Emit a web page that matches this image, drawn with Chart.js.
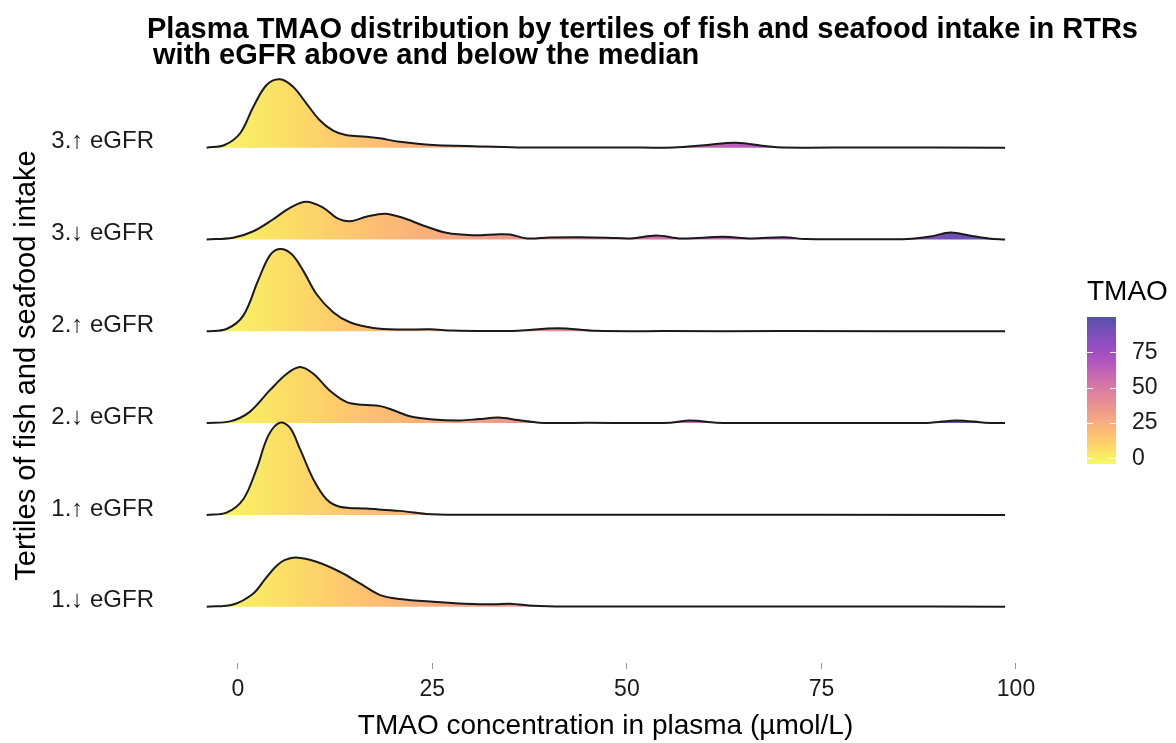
<!DOCTYPE html>
<html>
<head>
<meta charset="utf-8">
<title>Plasma TMAO ridgeline</title>
<script src="https://cdn.jsdelivr.net/npm/chart.js@4.4.1/dist/chart.umd.min.js"></script>
<style>
  html, body { margin: 0; padding: 0; background: #ffffff; }
  canvas { display: block; }
</style>
</head>
<body>
<canvas id="tmao_ridges" width="1176" height="743"></canvas>
<script>
// row labels, bottom to top
const rowLabels = ['1.↓ eGFR', '1.↑ eGFR', '2.↓ eGFR', '2.↑ eGFR', '3.↓ eGFR', '3.↑ eGFR'];
const xTicks = [0, 25, 50, 75, 100];
const legendTicks = [0, 25, 50, 75];

// density height per row, in units of row spacing
const t1DownX = [-4, -0.6, 2, 3.5, 4.8, 6, 7.5, 10.1, 13.1, 15.7, 18.3, 20.8, 25.1, 30.2, 33, 35, 38, 42, 60, 80, 98.6];
const t1DownH = [0, 0.025, 0.145, 0.3, 0.43, 0.508, 0.537, 0.49, 0.381, 0.254, 0.127, 0.084, 0.054, 0.029, 0.027, 0.033, 0.011, 0.003, 0.002, 0.002, 0];

const t1UpX = [-4, -1.45, 0.7, 2.4, 3.9, 5.4, 6.7, 8, 9.7, 11.4, 13.1, 16.5, 20.8, 24.2, 28, 50, 98.6];
const t1UpH = [0, 0.025, 0.171, 0.498, 0.861, 1.005, 0.951, 0.716, 0.389, 0.171, 0.09, 0.069, 0.044, 0.011, 0.002, 0.001, 0];

const t2DownX = [-4, -1, 1.5, 4.1, 6.3, 8, 9.7, 11.8, 14, 16.1, 18.3, 20, 22.1, 25.1, 28.5, 31, 33.5, 36, 38.8, 45, 55.6, 58.1, 61.5, 70, 85, 89, 92.4, 96, 98.6];
const t2DownH = [0, 0.019, 0.12, 0.356, 0.537, 0.61, 0.537, 0.356, 0.229, 0.199, 0.185, 0.14, 0.075, 0.04, 0.029, 0.044, 0.06, 0.033, 0.005, 0.003, 0.005, 0.029, 0.005, 0.002, 0.002, 0.005, 0.029, 0.005, 0];

const t2UpX = [-4, -1.45, 0.7, 2.6, 4.1, 5.4, 6.9, 8.4, 10.1, 12.25, 14.4, 17.4, 20.8, 24.7, 27.6, 33, 36, 41.1, 46, 55, 70, 98.6];
const t2UpH = [0, 0.025, 0.171, 0.552, 0.825, 0.897, 0.842, 0.661, 0.406, 0.207, 0.098, 0.036, 0.019, 0.022, 0.008, 0.003, 0.005, 0.033, 0.005, 0.002, 0.002, 0];

const t3DownX = [-4, -0.6, 2, 4.5, 6.7, 8.8, 11, 12.7, 14.4, 16.5, 18.9, 21.2, 23.8, 26.8, 30.2, 33.7, 35, 37.2, 40, 44, 47.5, 50.5, 53.8, 57, 62.4, 66, 70.1, 73, 80, 86, 89, 91.6, 94, 96.5, 98.6];
const t3DownH = [0, 0.019, 0.09, 0.218, 0.345, 0.411, 0.345, 0.236, 0.199, 0.247, 0.28, 0.236, 0.153, 0.073, 0.047, 0.058, 0.054, 0.011, 0.022, 0.025, 0.02, 0.011, 0.044, 0.011, 0.029, 0.011, 0.025, 0.005, 0.003, 0.005, 0.033, 0.076, 0.044, 0.011, 0];

const t3UpX = [-4, -1.7, 0.3, 2, 3.7, 5.4, 7.1, 8.8, 10.5, 12.25, 14, 16.5, 18.25, 20.8, 25.1, 29.4, 36, 50, 56, 60, 64, 68, 70, 80, 98.6];
const t3UpH = [0, 0.029, 0.157, 0.447, 0.683, 0.745, 0.664, 0.484, 0.302, 0.185, 0.135, 0.12, 0.102, 0.065, 0.029, 0.019, 0.003, 0.002, 0.003, 0.027, 0.054, 0.016, 0.002, 0.002, 0];

const rowsX = [t1DownX, t1UpX, t2DownX, t2UpX, t3DownX, t3UpX];
const rowsH = [t1DownH, t1UpH, t2DownH, t2UpH, t3DownH, t3UpH];

// fill colour range of the TMAO scale
const colorMin = -4;
const colorMax = 100;

document.addEventListener('DOMContentLoaded', () => {
  const canvas = document.getElementById('tmao_ridges');
  const ctx = canvas.getContext('2d');
  const FONT = '"Liberation Sans", Arial, Helvetica, sans-serif';
  Chart.defaults.font.family = FONT;
  Chart.defaults.color = '#1a1a1a';

  // plasma, low -> high
  const plasma = ['#0d0887', '#41049d', '#6a00a8', '#8f0da4', '#b12a90', '#cc4778',
    '#e16462', '#f2844b', '#fca636', '#fcce25', '#f0f921'];
  const fillAlpha = 0.7;

  const withAlpha = (hex, a) => {
    const r = parseInt(hex.slice(1, 3), 16);
    const g = parseInt(hex.slice(3, 5), 16);
    const b = parseInt(hex.slice(5, 7), 16);
    return `rgba(${r}, ${g}, ${b}, ${a})`;
  };

  // high TMAO is dark, low TMAO is yellow
  const addStops = (grad) => {
    for (let k = 0; k <= 10; k += 1) {
      grad.addColorStop(k / 10, withAlpha(plasma[10 - k], fillAlpha));
    }
    return grad;
  };

  let cachedGrad = null;
  let cachedKey = '';
  const ridgeFill = (context) => {
    const chart = context.chart;
    const xScale = chart.scales.x;
    if (!chart.chartArea || !xScale) {
      return 'rgba(0,0,0,0)';
    }
    const x0 = xScale.getPixelForValue(colorMin);
    const x1 = xScale.getPixelForValue(colorMax);
    const key = `${x0}-${x1}`;
    if (key !== cachedKey) {
      cachedGrad = addStops(chart.ctx.createLinearGradient(x0, 0, x1, 0));
      cachedKey = key;
    }
    return cachedGrad;
  };

  const datasets = rowsX.map((xs, i) => ({
    label: rowLabels[i],
    data: xs.map((x, j) => ({ x: x, y: i + 1 + rowsH[i][j] })),
    borderColor: '#1a1a1a',
    borderWidth: 2,
    borderJoinStyle: 'round',
    backgroundColor: ridgeFill,
    fill: { value: i + 1 },
    pointRadius: 0,
    tension: 0.35
  }));

  const titlePlugin = {
    id: 'ridgeTitle',
    afterDraw(chart) {
      const c = chart.ctx;
      c.save();
      c.fillStyle = '#000000';
      c.font = `bold 29px ${FONT}`;
      c.textAlign = 'left';
      c.textBaseline = 'alphabetic';
      c.fillText('Plasma TMAO distribution by tertiles of fish and seafood intake in RTRs', 147, 38);
      c.fillText(' with eGFR above and below the median', 145, 64);
      c.restore();
    }
  };

  const colorbarPlugin = {
    id: 'colorbar',
    afterDraw(chart) {
      const c = chart.ctx;
      const barLeft = 1087;
      const barW = 29;
      const barTop = 317;
      const barBottom = 464;
      const valueToY = (v) => barBottom - (v - colorMin) / (colorMax - colorMin) * (barBottom - barTop);

      c.save();
      c.fillStyle = '#ffffff';
      c.fillRect(barLeft, barTop, barW, barBottom - barTop);
      c.fillStyle = addStops(c.createLinearGradient(0, barBottom, 0, barTop));
      c.fillRect(barLeft, barTop, barW, barBottom - barTop);

      c.strokeStyle = 'rgba(255,255,255,0.9)';
      c.lineWidth = 1;
      legendTicks.forEach((v) => {
        const y = Math.round(valueToY(v)) + 0.5;
        c.beginPath();
        c.moveTo(barLeft, y);
        c.lineTo(barLeft + 6, y);
        c.moveTo(barLeft + barW - 6, y);
        c.lineTo(barLeft + barW, y);
        c.stroke();
      });

      c.fillStyle = '#1a1a1a';
      c.font = `23px ${FONT}`;
      c.textAlign = 'left';
      c.textBaseline = 'middle';
      legendTicks.forEach((v) => {
        c.fillText(String(v), 1132, valueToY(v));
      });

      c.fillStyle = '#000000';
      c.font = `28px ${FONT}`;
      c.textBaseline = 'alphabetic';
      c.fillText('TMAO', 1087, 300);
      c.restore();
    }
  };

  const config = {
    type: 'line',
    data: { datasets: datasets },
    options: {
      responsive: false,
      animation: false,
      devicePixelRatio: 1,
      layout: {
        padding: { top: 68, right: 132, bottom: 0, left: 0 }
      },
      scales: {
        x: {
          type: 'linear',
          min: -9.1,
          max: 103.6,
          afterBuildTicks: (scale) => {
            scale.ticks = xTicks.map((v) => ({ value: v }));
          },
          afterFit: (scale) => {
            scale.height = 80;
          },
          grid: {
            display: true,
            drawOnChartArea: false,
            drawTicks: true,
            tickLength: 6,
            tickColor: '#9a9a9a',
            tickWidth: 1
          },
          border: { display: false },
          ticks: {
            padding: 7,
            maxRotation: 0,
            color: '#1a1a1a',
            font: { size: 23 }
          },
          title: {
            display: true,
            text: 'TMAO concentration in plasma (µmol/L)',
            color: '#000000',
            font: { size: 28, lineHeight: 1.2 },
            padding: { top: 0, bottom: 0 }
          }
        },
        y: {
          type: 'linear',
          min: 0.387,
          max: 6.868,
          afterBuildTicks: (scale) => {
            scale.ticks = rowLabels.map((_, i) => ({ value: i + 1 }));
          },
          afterFit: (scale) => {
            scale.width = 167;
          },
          grid: { display: false, drawTicks: false },
          border: { display: false },
          ticks: {
            padding: 13,
            labelOffset: -6,
            color: '#1a1a1a',
            font: { size: 24 },
            callback: (value) => rowLabels[Math.round(value) - 1] || ''
          },
          title: {
            display: true,
            text: 'Tertiles of fish and seafood intake',
            color: '#000000',
            font: { size: 29, lineHeight: 1.2 },
            padding: { top: 10, bottom: 0 }
          }
        }
      },
      plugins: {
        legend: { display: false },
        tooltip: { enabled: false },
        title: { display: false }
      }
    },
    plugins: [titlePlugin, colorbarPlugin]
  };

  new Chart(ctx, config);
});
</script>
</body>
</html>
